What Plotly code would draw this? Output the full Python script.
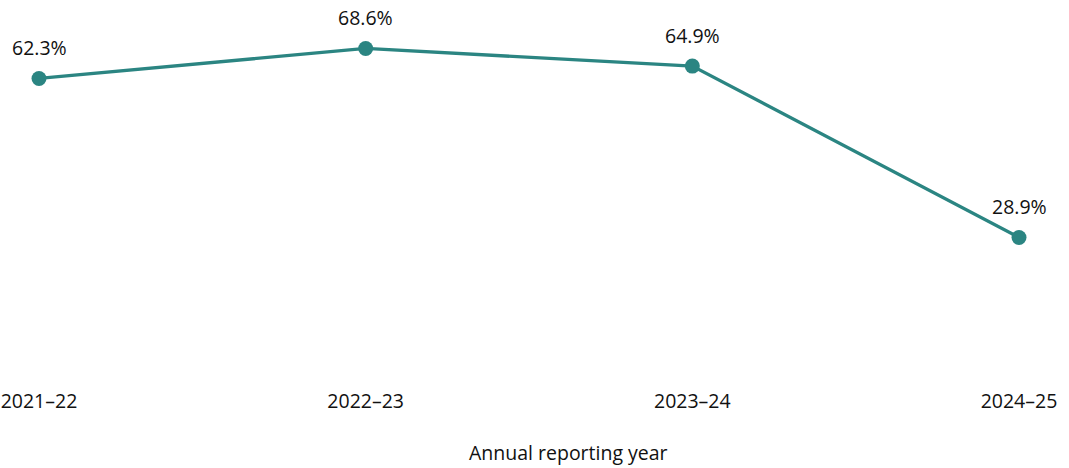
import plotly.graph_objects as go

# Share of reports per annual reporting year (%)
years = ["2021–22", "2022–23", "2023–24", "2024–25"]
values = [62.3, 68.6, 64.9, 28.9]
value_labels = ["62.3%", "68.6%", "64.9%", "28.9%"]
x_title = "Annual reporting year"

TEAL = "#2b8582"
FONT = "Open Sans, Noto Sans, sans-serif"
FSIZE = 19.5
positions = list(range(len(years)))

fig = go.Figure()
fig.add_trace(go.Scatter(
    x=positions,
    y=values,
    mode="lines+markers",
    line=dict(color=TEAL, width=3.3),
    marker=dict(color=TEAL, size=15),
    cliponaxis=False,
    hoverinfo="skip",
    showlegend=False,
))

for xp, yv, lab in zip(positions, values, value_labels):
    fig.add_annotation(
        x=xp, y=yv, text=lab, showarrow=False,
        yshift=31, font=dict(family=FONT, size=FSIZE, color="#111111"),
    )

# Axis title, set slightly right of the plot centre
fig.add_annotation(
    xref="paper", yref="paper", x=0.54, y=0, yshift=-77,
    text=x_title, showarrow=False, xanchor="center", yanchor="middle",
    font=dict(family=FONT, size=FSIZE, color="#111111"),
)

fig.update_layout(
    width=1069, height=468,
    margin=dict(l=39, r=50, t=18, b=93, autoexpand=False),
    paper_bgcolor="white", plot_bgcolor="white",
    font=dict(family=FONT, size=FSIZE, color="#111111"),
    xaxis=dict(
        range=[0, len(years) - 1], automargin=False,
        tickmode="array", tickvals=positions, ticktext=years,
        showgrid=False, zeroline=False, showline=False, ticks="",
        ticklabelstandoff=12,
    ),
    yaxis=dict(
        range=[0, 75], visible=False, showgrid=False, zeroline=False,
    ),
)

fig.write_html("out.html")
